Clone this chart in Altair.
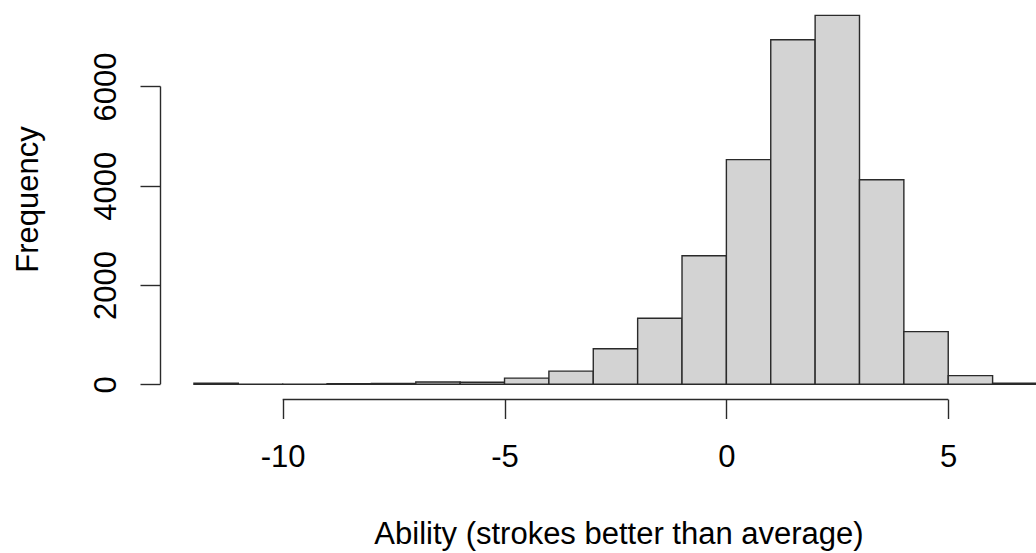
import altair as alt
import pandas as pd

# Histogram data (bins of width 1)
bin_start = list(range(-12, 7))
counts = [20, 3, 2, 12, 15, 45, 40, 125, 265, 717, 1330, 2590, 4525, 6940, 7430, 4120, 1060, 175, 20]
x_ticks = [-10, -5, 0, 5]
y_ticks = [0, 2000, 4000, 6000]
x_title = "Ability (strokes better than average)"
y_title = "Frequency"

bars_df = pd.DataFrame({
    "start": bin_start,
    "end": [b + 1 for b in bin_start],
    "count": counts,
})
xaxis_df = pd.DataFrame({"x0": [min(x_ticks)], "x1": [max(x_ticks)]})
yaxis_df = pd.DataFrame({"y0": [min(y_ticks)], "y1": [max(y_ticks)]})

W, H = 876, 399
FONT = "Liberation Sans"
FS = 31
LINE = "#2a2a2a"
LW = 1.4

xscale = alt.Scale(domain=[-12.765, 6.978], nice=False, zero=False)
yscale = alt.Scale(domain=[-296, 7740], nice=False, zero=False)

xaxis = alt.Axis(
    values=x_ticks, domain=False, grid=False, ticks=True, tickSize=19.5,
    tickColor=LINE, tickWidth=LW, labelFont=FONT, labelFontSize=FS,
    labelColor="#000000", labelPadding=23.7, labelExpr="toString(datum.value)",
    labelBaseline="top", labelAlign="center", labelFlush=False, labelOverlap=False,
    title=x_title, titleFont=FONT, titleFontSize=FS, titleFontWeight="normal",
    titleColor="#000000", titleX=458.5, titleY=144.3, titleAlign="center",
    titleBaseline="alphabetic", titleAnchor="start",
)
yaxis = alt.Axis(
    values=y_ticks, domain=False, grid=False, ticks=True, tickSize=20,
    tickColor=LINE, tickWidth=LW, labelFont=FONT, labelFontSize=FS,
    labelColor="#000000", labelPadding=25, labelExpr="toString(datum.value)",
    labelAngle=270, labelAlign="center", labelBaseline="alphabetic",
    labelFlush=False, labelOverlap=False,
    title=y_title, titleFont=FONT, titleFontSize=FS, titleFontWeight="normal",
    titleColor="#000000", titleX=-123, titleY=199, titleAngle=270,
    titleAlign="center", titleBaseline="alphabetic", titleAnchor="start",
)

bars = alt.Chart(bars_df).mark_rect(
    fill="#D3D3D3", stroke=LINE, strokeWidth=LW, clip=True
).encode(
    x=alt.X("start:Q", scale=xscale, axis=xaxis),
    x2="end:Q",
    y=alt.Y("count:Q", scale=yscale, axis=yaxis),
    y2=alt.datum(0),
)

xline = alt.Chart(xaxis_df).mark_rule(color=LINE, strokeWidth=LW).encode(
    x=alt.X("x0:Q", scale=xscale),
    x2="x1:Q",
    y=alt.value(H + 0.5),
)
yline = alt.Chart(yaxis_df).mark_rule(color=LINE, strokeWidth=LW).encode(
    y=alt.Y("y0:Q", scale=yscale),
    y2="y1:Q",
    x=alt.value(0.5),
)

chart = alt.layer(bars, xline, yline).properties(
    width=W, height=H,
    autosize=alt.AutoSizeParams(type="none"),
    padding={"left": 160, "top": 0, "right": 0, "bottom": 154},
    background="white",
).configure_view(stroke=None)

chart.save("out.html", embed_options={"renderer": "svg", "actions": False})
